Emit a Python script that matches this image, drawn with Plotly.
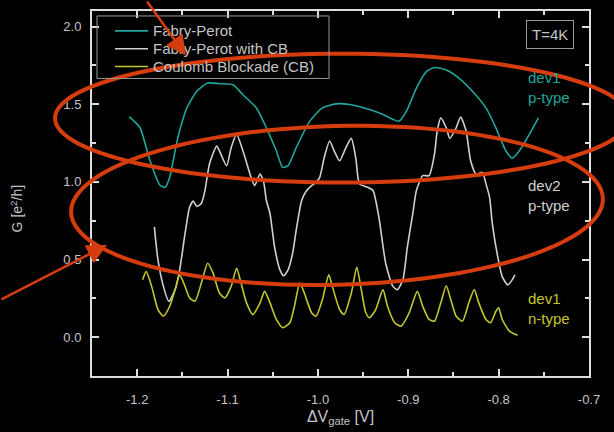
import math
import plotly.graph_objects as go

# ---- data ----
fp_x = [-1.209, -1.197, -1.186, -1.175, -1.169, -1.164, -1.155, -1.145, -1.134, -1.122,
        -1.109, -1.094, -1.083, -1.068, -1.057, -1.046, -1.039, -1.033, -1.024, -1.009,
        -0.995, -0.980, -0.965, -0.943, -0.928, -0.917, -0.910, -0.902, -0.891, -0.880,
        -0.871, -0.858, -0.844, -0.829, -0.814, -0.803, -0.792, -0.785, -0.777, -0.766, -0.756]
fp_y = [1.42, 1.35, 1.14, 0.98, 0.965, 1.03, 1.285, 1.476, 1.583, 1.636,
        1.632, 1.625, 1.561, 1.476, 1.348, 1.20, 1.093, 1.104, 1.22, 1.391,
        1.476, 1.502, 1.498, 1.466, 1.434, 1.402, 1.391, 1.455, 1.604, 1.71,
        1.736, 1.72, 1.668, 1.583, 1.476, 1.348, 1.20, 1.153, 1.20, 1.306, 1.412]

fpcb_x = [-1.181, -1.177, -1.171, -1.165, -1.158, -1.153, -1.147, -1.142, -1.138, -1.134,
          -1.129, -1.125, -1.120, -1.112, -1.109, -1.101, -1.096, -1.090, -1.083, -1.074,
          -1.070, -1.064, -1.060, -1.057, -1.053, -1.048, -1.042, -1.038, -1.033, -1.028,
          -1.024, -1.018, -1.013, -1.007, -1.002, -0.998, -0.993, -0.987, -0.982, -0.976,
          -0.969, -0.963, -0.958, -0.954, -0.945, -0.939, -0.936, -0.932, -0.925, -0.917,
          -0.912, -0.906, -0.901, -0.895, -0.891, -0.884, -0.877, -0.871, -0.868, -0.864,
          -0.858, -0.854, -0.847, -0.842, -0.836, -0.831, -0.825, -0.818, -0.814, -0.810,
          -0.807, -0.801, -0.796, -0.790, -0.785, -0.782]
fpcb_y = [0.71, 0.497, 0.327, 0.231, 0.306, 0.433, 0.668, 0.837, 0.876, 0.842,
          0.86, 0.944, 1.115, 1.231, 1.20, 1.104, 1.22, 1.306, 1.20, 1.029,
          0.976, 1.051, 0.997, 0.88, 0.795, 0.582, 0.433, 0.395, 0.433, 0.54,
          0.689, 0.88, 0.94, 0.976, 0.997, 1.029, 1.157, 1.263, 1.20, 1.136,
          1.221, 1.28, 1.15, 0.987, 0.965, 0.944, 0.88, 0.753, 0.476, 0.327,
          0.306, 0.369, 0.582, 0.795, 0.944, 1.04, 1.04, 1.178, 1.327, 1.412,
          1.348, 1.28, 1.348, 1.417, 1.327, 1.136, 1.051, 1.061, 0.987, 0.90,
          0.731, 0.518, 0.39, 0.337, 0.369, 0.401]

cb_x = [-1.194, -1.190, -1.184, -1.177, -1.171, -1.164, -1.157, -1.153, -1.147, -1.142,
        -1.136, -1.129, -1.122, -1.116, -1.109, -1.103, -1.096, -1.090, -1.086, -1.079,
        -1.072, -1.064, -1.059, -1.053, -1.046, -1.039, -1.031, -1.026, -1.020, -1.015,
        -1.007, -1.002, -0.995, -0.988, -0.984, -0.976, -0.971, -0.963, -0.957, -0.952,
        -0.947, -0.943, -0.936, -0.928, -0.923, -0.915, -0.908, -0.899, -0.890, -0.884,
        -0.877, -0.871, -0.864, -0.858, -0.853, -0.847, -0.840, -0.833, -0.827, -0.822,
        -0.814, -0.809, -0.803, -0.800, -0.796, -0.788, -0.779]
cb_y = [0.369, 0.422, 0.327, 0.178, 0.135, 0.199, 0.327, 0.401, 0.327, 0.253,
        0.231, 0.348, 0.476, 0.412, 0.284, 0.253, 0.327, 0.444, 0.369, 0.221,
        0.146, 0.221, 0.295, 0.221, 0.114, 0.061, 0.093, 0.199, 0.348, 0.284,
        0.157, 0.135, 0.242, 0.401, 0.327, 0.178, 0.146, 0.284, 0.45, 0.306,
        0.157, 0.125, 0.178, 0.306, 0.199, 0.093, 0.071, 0.157, 0.295, 0.199,
        0.114, 0.103, 0.221, 0.331, 0.242, 0.135, 0.103, 0.221, 0.306, 0.221,
        0.114, 0.093, 0.167, 0.189, 0.114, 0.039, 0.012]

series_names = ["Fabry-Perot", "Fabry-Perot with CB", "Coulomb Blockade (CB)"]
series_colors = ["#22a59c", "#d0d0d0", "#c3c62e"]

x_tickvals = [-1.2, -1.1, -1.0, -0.9, -0.8, -0.7]
x_ticktext = ["-1.2", "-1.1", "-1.0", "-0.9", "-0.8", "-0.7"]
y_tickvals = [0.0, 0.5, 1.0, 1.5, 2.0]
y_ticktext = ["0.0", "0.5", "1.0", "1.5", "2.0"]

x_range = [-1.25, -0.7]
y_range = [-0.25, 2.1]

FONT = "Liberation Sans, Arial, Helvetica, sans-serif"
AXC = "#dddddd"
TXT = "#c4c4c4"
ORANGE = "#d63d0e"

fig = go.Figure()
for xs, ys, name, col in zip([fp_x, fpcb_x, cb_x], [fp_y, fpcb_y, cb_y], series_names, series_colors):
    fig.add_trace(go.Scatter(x=xs, y=ys, mode="lines", name=name, showlegend=False,
                             line=dict(color=col, width=1.6, shape="spline", smoothing=0.6)))

axis_common = dict(
    showgrid=False, zeroline=False, showline=True, linecolor=AXC, linewidth=2,
    mirror="allticks", ticks="inside", ticklen=7, tickwidth=2, tickcolor=AXC,
    tickfont=dict(color=TXT, size=13, family=FONT), tickmode="array",
)
fig.update_xaxes(range=x_range, tickvals=x_tickvals, ticktext=x_ticktext, ticklabelstandoff=10,
                 minor=dict(ticks="inside", ticklen=4, dtick=0.05, tick0=-1.2, tickcolor=AXC, tickwidth=2),
                 title=dict(text="ΔV<sub>gate</sub> [V]", font=dict(color=TXT, size=16, family=FONT), standoff=5),
                 **axis_common)
fig.update_yaxes(range=y_range, tickvals=y_tickvals, ticktext=y_ticktext, ticklabelstandoff=6,
                 minor=dict(ticks="inside", ticklen=4, dtick=0.25, tick0=0, tickcolor=AXC, tickwidth=2),
                 **axis_common)

# plot area in pixels: x 92..589, y 9..377
def px(xp):
    return (xp - 92) / 497.0

def py(yp):
    return (377 - yp) / 368.0

def ellipse_path(cx, cy, a, b, deg, n=120):
    t = math.radians(deg)
    pts = []
    for i in range(n):
        s = 2 * math.pi * i / n
        ex, ey = a * math.cos(s), b * math.sin(s)
        X = cx + ex * math.cos(t) - ey * math.sin(t)
        Y = cy + ex * math.sin(t) + ey * math.cos(t)
        pts.append((px(X), py(Y)))
    return "M " + " L ".join(f"{u:.5f},{v:.5f}" for u, v in pts) + " Z"

# ellipses (pixel geometry)
fig.add_shape(type="path", xref="paper", yref="paper",
              path=ellipse_path(342, 117, 287, 65, 0.0), line=dict(color=ORANGE, width=4))
fig.add_shape(type="path", xref="paper", yref="paper",
              path=ellipse_path(337, 205, 266, 80, -1.5), line=dict(color=ORANGE, width=4))

# manual legend
fig.add_shape(type="rect", xref="paper", yref="paper", x0=px(97), x1=px(329), y0=py(77), y1=py(14),
              line=dict(color="#999999", width=1), fillcolor="rgba(0,0,0,0)", layer="above")
for i, (name, col) in enumerate(zip(series_names, series_colors)):
    yy = 29 + 18 * i
    fig.add_shape(type="line", xref="paper", yref="paper", x0=px(115), x1=px(148), y0=py(yy), y1=py(yy),
                  line=dict(color=col, width=1.6))
    fig.add_annotation(x=px(151), y=py(yy), xref="paper", yref="paper", text=name, showarrow=False,
                       xanchor="left", yanchor="middle", font=dict(color=TXT, size=15, family=FONT))

# arrows (drawn after legend text so heads stay on top)
fig.add_annotation(x=px(186), y=py(54), xref="paper", yref="paper", ax=-40, ay=-62,
                   axref="pixel", ayref="pixel", text="", showarrow=True,
                   arrowhead=2, arrowsize=1.6, arrowwidth=2.5, arrowcolor=ORANGE)
fig.add_annotation(x=px(107), y=py(245), xref="paper", yref="paper", ax=-110, ay=55,
                   axref="pixel", ayref="pixel", text="", showarrow=True,
                   arrowhead=2, arrowsize=1.6, arrowwidth=2.5, arrowcolor=ORANGE)

# y title
fig.add_annotation(x=px(17), y=py(208), xref="paper", yref="paper", text="G [e<sup>2</sup>/h]",
                   textangle=-90, showarrow=False, xanchor="center", yanchor="middle",
                   font=dict(color=TXT, size=14, family=FONT))

# T=4K box
fig.add_annotation(x=px(549.5), y=py(32.5), xref="paper", yref="paper", text="T=4K",
                   showarrow=False, xanchor="center", yanchor="middle",
                   font=dict(color=TXT, size=15, family=FONT),
                   bordercolor="#999999", borderwidth=1, borderpad=5, bgcolor="black")

# device labels
for txt, col, ymid in [("dev1<br>p-type", series_colors[0], 86),
                       ("dev2<br>p-type", series_colors[1], 195),
                       ("dev1<br>n-type", series_colors[2], 309)]:
    fig.add_annotation(x=px(526), y=py(ymid), xref="paper", yref="paper", text=txt,
                       showarrow=False, xanchor="left", yanchor="middle", align="left",
                       font=dict(color=col, size=15, family=FONT))

fig.update_layout(
    width=614, height=432,
    margin=dict(l=92, r=25, t=9, b=55),
    paper_bgcolor="black", plot_bgcolor="black",
    font=dict(family=FONT, color=TXT),
    showlegend=False,
)

fig.write_html("out.html")
